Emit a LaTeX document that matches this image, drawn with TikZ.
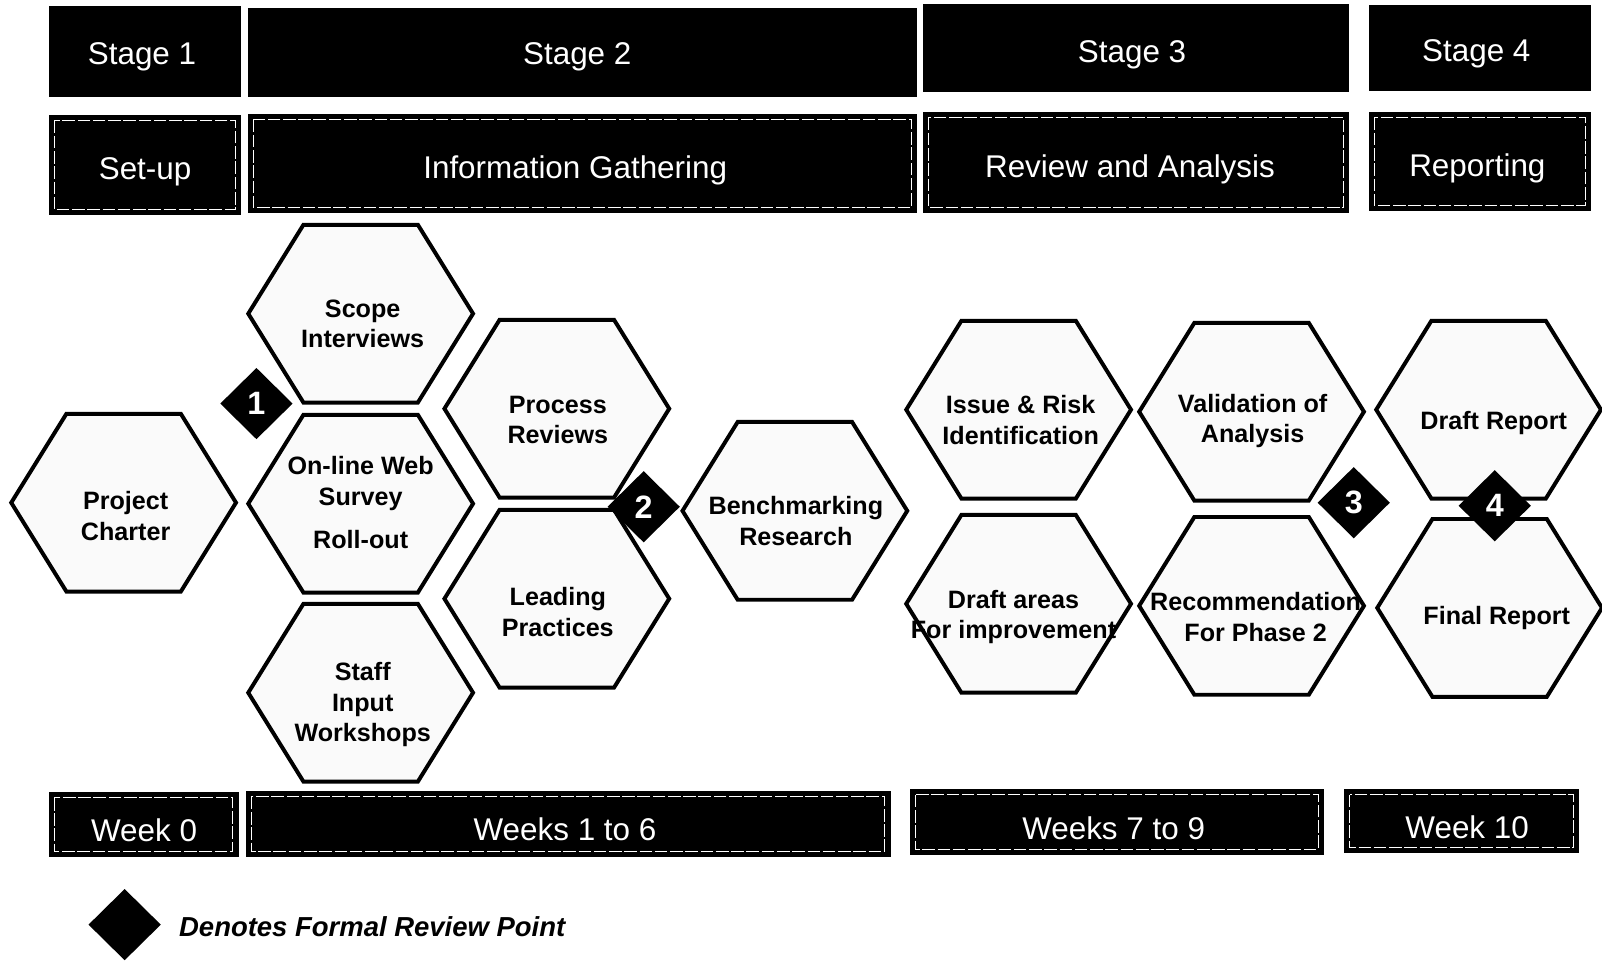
\documentclass[tikz,border=0pt]{standalone}
\usepackage{fontspec}
\setmainfont{Liberation Sans}
\usetikzlibrary{shapes.geometric}

\tikzset{
	hexcell/.style={fill=black!2, draw=black, line width=2.2pt, line join=miter},
	hexlabel/.style={font=\fontsize{14}{17}\selectfont\bfseries, align=center, inner sep=0pt},
	blackbox/.style={fill=black, draw=black},
	boxlabel/.style={font=\fontsize{17.5}{20}\selectfont, text=white, inner sep=0pt},
	inframe/.style={draw=white, line width=0.5pt, dash pattern=on 7pt off 1.5pt},
	reviewpt/.style={diamond, fill=black, inner sep=0pt, minimum width=1.42cm, minimum height=1.4cm, text=white, font=\fontsize{18}{18}\selectfont\bfseries},
}

\begin{document}
\begin{tikzpicture}[x=0.02cm, y=-0.02cm]
	\useasboundingbox (0,0) rectangle (1568,940);
	
	% Stage row
	\filldraw[blackbox] (48,6) rectangle (235,94);
	\node[boxlabel] (st1) at (139,56) {Stage 1};
	\filldraw[blackbox] (243,8) rectangle (897,94);
	\node[boxlabel] (st2) at (565,56) {Stage 2};
	\filldraw[blackbox] (904,4) rectangle (1320,89);
	\node[boxlabel] (st3) at (1108,54) {Stage 3};
	\filldraw[blackbox] (1340,5) rectangle (1557,88);
	\node[boxlabel] (st4) at (1445,53) {Stage 4};
	
	% Phase row
	\filldraw[blackbox] (48,113) rectangle (235,210);
	\draw[inframe] (53,118) rectangle (230,205);
	\node[boxlabel] (setup) at (142,168) {Set-up};
	\filldraw[blackbox] (243,112) rectangle (897,208);
	\draw[inframe] (248,117) rectangle (892,203);
	\node[boxlabel] (info) at (563,167) {Information Gathering};
	\filldraw[blackbox] (904,110) rectangle (1320,208);
	\draw[inframe] (909,115) rectangle (1315,203);
	\node[boxlabel] (review) at (1106,166) {Review and Analysis};
	\filldraw[blackbox] (1340,110) rectangle (1557,206);
	\draw[inframe] (1345,115) rectangle (1552,201);
	\node[boxlabel] (reporting) at (1446,165) {Reporting};
	
	% Stage 1 cell
	\filldraw[hexcell] (121,492) ++(-110,0) -- ++(54,-87) -- ++(112,0) -- ++(54,87) -- ++(-54,87) -- ++(-112,0) -- cycle;
	\node[hexlabel] (charter) at (123,505) {Project\\Charter};
	
	% Stage 2 cells
	\filldraw[hexcell] (353,307) ++(-110,0) -- ++(54,-87) -- ++(112,0) -- ++(54,87) -- ++(-54,87) -- ++(-112,0) -- cycle;
	\node[hexlabel] (scope) at (355,317) {Scope\\Interviews};
	\filldraw[hexcell] (353,493) ++(-110,0) -- ++(54,-87) -- ++(112,0) -- ++(54,87) -- ++(-54,87) -- ++(-112,0) -- cycle;
	\node[hexlabel] (survey) at (353,492) {On-line Web\\Survey\\[7pt]Roll-out};
	\filldraw[hexcell] (353,678) ++(-110,0) -- ++(54,-87) -- ++(112,0) -- ++(54,87) -- ++(-54,87) -- ++(-112,0) -- cycle;
	\node[hexlabel] (staff) at (355,690) {Staff\\Input\\Workshops};
	\filldraw[hexcell] (545,400) ++(-110,0) -- ++(54,-87) -- ++(112,0) -- ++(54,87) -- ++(-54,87) -- ++(-112,0) -- cycle;
	\node[hexlabel] (process) at (546,411) {Process\\Reviews};
	\filldraw[hexcell] (545,586) ++(-110,0) -- ++(54,-87) -- ++(112,0) -- ++(54,87) -- ++(-54,87) -- ++(-112,0) -- cycle;
	\node[hexlabel] (leading) at (546,599) {Leading\\Practices};
	\filldraw[hexcell] (778,500) ++(-110,0) -- ++(54,-87) -- ++(112,0) -- ++(54,87) -- ++(-54,87) -- ++(-112,0) -- cycle;
	\node[hexlabel] (bench) at (779,510) {Benchmarking\\Research};
	
	% Stage 3 cells
	\filldraw[hexcell] (997,401) ++(-110,0) -- ++(54,-87) -- ++(112,0) -- ++(54,87) -- ++(-54,87) -- ++(-112,0) -- cycle;
	\node[hexlabel] (issue) at (999,411) {Issue \& Risk\\Identification};
	\filldraw[hexcell] (997,591) ++(-110,0) -- ++(54,-87) -- ++(112,0) -- ++(54,87) -- ++(-54,87) -- ++(-112,0) -- cycle;
	\node[hexlabel] (areas) at (992,604) {Draft areas\\For improvement};
	\filldraw[hexcell] (1225,403) ++(-110,0) -- ++(54,-87) -- ++(112,0) -- ++(54,87) -- ++(-54,87) -- ++(-112,0) -- cycle;
	\node[hexlabel] (valid) at (1226,412) {Validation of\\Analysis};
	\filldraw[hexcell] (1225,593) ++(-110,0) -- ++(54,-87) -- ++(112,0) -- ++(54,87) -- ++(-54,87) -- ++(-112,0) -- cycle;
	\node[hexlabel] (recom) at (1229,604) {Recommendation\\For Phase 2};
	
	% Stage 4 cells
	\filldraw[hexcell] (1457,401) ++(-110,0) -- ++(54,-87) -- ++(112,0) -- ++(54,87) -- ++(-54,87) -- ++(-112,0) -- cycle;
	\node[hexlabel] (draftrep) at (1462,414) {Draft Report};
	\filldraw[hexcell] (1458,595) ++(-110,0) -- ++(54,-87) -- ++(112,0) -- ++(54,87) -- ++(-54,87) -- ++(-112,0) -- cycle;
	\node[hexlabel] (finalrep) at (1465,605) {Final Report};
	
	% Review points
	\node[reviewpt] (rp1) at (251,395) {1};
	\node[reviewpt] (rp2) at (630,496) {2};
	\node[reviewpt] (rp3) at (1325,492) {3};
	\node[reviewpt] (rp4) at (1463,495) {4};
	
	% Week row
	\filldraw[blackbox] (48,776) rectangle (233,838);
	\draw[inframe] (53,781) rectangle (228,833);
	\node[boxlabel] (wk0) at (141,813) {Week 0};
	\filldraw[blackbox] (241,775) rectangle (871,838);
	\draw[inframe] (246,780) rectangle (866,833);
	\node[boxlabel] (wk16) at (553,812) {Weeks 1 to 6};
	\filldraw[blackbox] (891,773) rectangle (1295,836);
	\draw[inframe] (896,778) rectangle (1290,831);
	\node[boxlabel] (wk79) at (1090,811) {Weeks 7 to 9};
	\filldraw[blackbox] (1316,773) rectangle (1545,834);
	\draw[inframe] (1321,778) rectangle (1540,829);
	\node[boxlabel] (wk10) at (1436,810) {Week 10};
	
	% Legend
	\node[reviewpt] (legend) at (122,905) {};
	\node[anchor=west, inner sep=0pt, font=\fontsize{15.3}{17}\selectfont\bfseries\itshape] (legendtxt) at (175,907) {Denotes Formal Review Point};
\end{tikzpicture}
\end{document}
